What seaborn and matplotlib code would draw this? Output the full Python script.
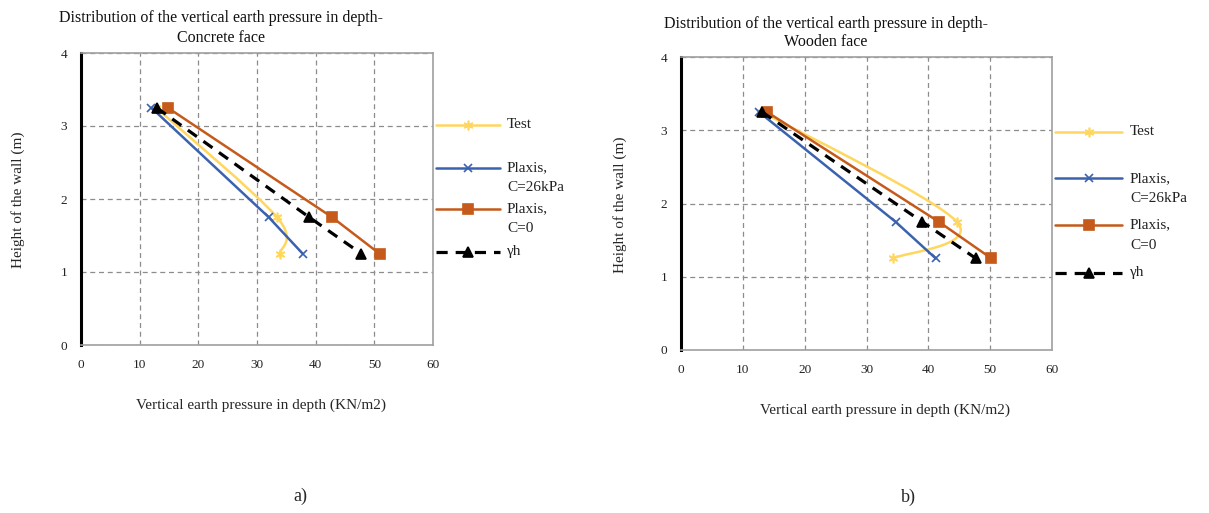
import numpy as np
import pandas as pd
import seaborn as sns
import matplotlib
matplotlib.use("Agg")
import matplotlib.pyplot as plt
from matplotlib.path import Path
from matplotlib.patches import PathPatch
from matplotlib.lines import Line2D

# ---------------- data ----------------
heights = [3.25, 1.75, 1.25]

concrete_test = [12.8, 33.4, 33.9]
concrete_c26 = [12.0, 32.0, 37.8]
concrete_c0 = [14.8, 42.8, 50.9]
concrete_gh = [12.9, 38.9, 47.8]

wooden_test = [13.1, 44.6, 34.3]
wooden_c26 = [12.6, 34.7, 41.2]
wooden_c0 = [13.9, 41.7, 50.2]
wooden_gh = [13.1, 39.0, 47.7]

series_names = ["Test", "Plaxis,\nC=26kPa", "Plaxis,\nC=0", "\u03b3h"]
titles = ["Distribution of the vertical earth pressure in depth-\nConcrete face",
          "Distribution of the vertical earth pressure in depth-\nWooden face"]
panel_labels = ["a)", "b)"]
xticks = [0, 10, 20, 30, 40, 50, 60]
yticks = [0, 1, 2, 3, 4]
xlabel = "Vertical earth pressure in depth (KN/m2)"
ylabel = "Height of the wall (m)"

# ---------------- style ----------------
sns.set_theme(style="white")
plt.rcParams["font.family"] = ["Liberation Serif", "DejaVu Serif"]
plt.rcParams["mathtext.fontset"] = "stix"

C_TEST = "#FFD75E"
C_C26 = "#3A62AE"
C_C0 = "#C55A1A"
C_GH = "#000000"
STAR = (6, 2, 0)

fig = plt.figure(figsize=(12.09, 5.13), dpi=100)
ax_l = fig.add_axes([81 / 1209, 1 - 345 / 513, 352 / 1209, 292 / 513])
ax_r = fig.add_axes([681 / 1209, 1 - 350 / 513, 371 / 1209, 293 / 513])


def smooth_path(xs, ys):
    """Catmull-Rom style Bezier path through the data points (Excel smoothing)."""
    pts = np.column_stack([xs, ys]).astype(float)
    n = len(pts)
    verts = [pts[0]]
    codes = [Path.MOVETO]
    for i in range(n - 1):
        p0 = pts[i - 1] if i > 0 else pts[i]
        p1 = pts[i]
        p2 = pts[i + 1]
        p3 = pts[i + 2] if i + 2 < n else pts[i + 1]
        c1 = p1 + (p2 - p0) / 6.0
        c2 = p2 - (p3 - p1) / 6.0
        verts += [c1, c2, p2]
        codes += [Path.CURVE4] * 3
    return Path(verts, codes)


def draw_panel(ax, test, c26, c0, gh, leg_y, txt_y):
    # smooth test curve
    ax.add_patch(PathPatch(smooth_path(test, heights), facecolor="none",
                           edgecolor=C_TEST, lw=1.8, zorder=3))
    df_t = pd.DataFrame({"x": test, "y": heights})
    ax.plot(df_t["x"], df_t["y"], ls="none", marker=STAR, ms=7, mew=1.2,
            color=C_TEST, zorder=4)

    for vals, col, mk, ls, ms in [(c26, C_C26, "x", "-", 6),
                                  (c0, C_C0, "s", "-", 7),
                                  (gh, C_GH, "^", (0, (3.5, 2.5)), 7)]:
        df = pd.DataFrame({"x": vals, "y": heights})
        sns.lineplot(data=df, x="x", y="y", sort=False, estimator=None, ax=ax,
                     color=col, lw=1.8 if col != C_GH else 2.3, linestyle=ls,
                     marker=mk, markersize=ms, markeredgecolor=col,
                     markeredgewidth=1.2, zorder=4)

    ax.set_xlim(0, 60)
    ax.set_ylim(0, 4)
    ax.set_xticks(xticks)
    ax.set_yticks(yticks)
    ax.set_xlabel("")
    ax.set_ylabel("")
    ax.tick_params(axis="both", length=0, labelsize=9.5, colors="#222222", pad=10)
    ax.grid(True, color="#8c8c8c", linestyle=(0, (4, 3)), lw=0.9)
    for s in ["top", "right", "bottom"]:
        ax.spines[s].set_color("#a0a0a0")
        ax.spines[s].set_linewidth(1.2)
    ax.spines["left"].set_color("black")
    ax.spines["left"].set_linewidth(2.2)

    # legend (drawn beside the axes)
    styles = [(C_TEST, STAR, "-", 7), (C_C26, "x", "-", 6),
              (C_C0, "s", "-", 7), (C_GH, "^", (0, (3.5, 2.5)), 7)]
    x0, x1, xt = 1.008, 1.19, 1.21
    for (col, mk, ls, ms), yy in zip(styles, leg_y):
        ax.add_line(Line2D([x0, x1], [yy, yy], transform=ax.transAxes,
                           color=col, lw=1.8 if col != C_GH else 2.3,
                           linestyle=ls, clip_on=False))
        ax.add_line(Line2D([(x0 + x1) / 2], [yy], transform=ax.transAxes,
                           color=col, marker=mk, ms=ms, mew=1.2, ls="none",
                           clip_on=False))
    for name, yy, yt in zip(series_names, leg_y, txt_y):
        lines = name.split("\n")
        ax.text(xt, yy, lines[0], transform=ax.transAxes, va="center",
                ha="left", fontsize=11, color="#222222")
        if len(lines) > 1:
            ax.text(xt, yt, lines[1], transform=ax.transAxes, va="center",
                    ha="left", fontsize=11, color="#222222")


def ly(py):
    return (345 - py) / 292


def ry(py):
    return (350 - py) / 293


draw_panel(ax_l, concrete_test, concrete_c26, concrete_c0, concrete_gh,
           leg_y=[ly(124.7), ly(167.5), ly(208.5), ly(251.5)],
           txt_y=[None, ly(187.5), ly(228.5), None])
draw_panel(ax_r, wooden_test, wooden_c26, wooden_c0, wooden_gh,
           leg_y=[ry(131.7), ry(178.3), ry(225), ry(272.5)],
           txt_y=[None, ry(198.5), ry(245.5), None])


def fx(px):
    return px / 1209


def fy(py):
    return 1 - py / 513


fig.text(fx(221), fy(28), titles[0], ha="center", va="center", fontsize=11.5,
         linespacing=1.25, color="#111111")
fig.text(fx(826), fy(33), titles[1], ha="center", va="center", fontsize=11.5,
         linespacing=1.25, color="#111111")
fig.text(fx(18), fy(200), ylabel, rotation=90, ha="center", va="center", fontsize=11)
fig.text(fx(620), fy(205), ylabel, rotation=90, ha="center", va="center", fontsize=11)
fig.text(fx(261), fy(405), xlabel, ha="center", va="center", fontsize=11)
fig.text(fx(885), fy(410), xlabel, ha="center", va="center", fontsize=11)
fig.text(fx(300), fy(496), panel_labels[0], ha="center", va="center", fontsize=13)
fig.text(fx(908), fy(497), panel_labels[1], ha="center", va="center", fontsize=13)

fig.savefig("out.png", dpi=100, facecolor="white")
